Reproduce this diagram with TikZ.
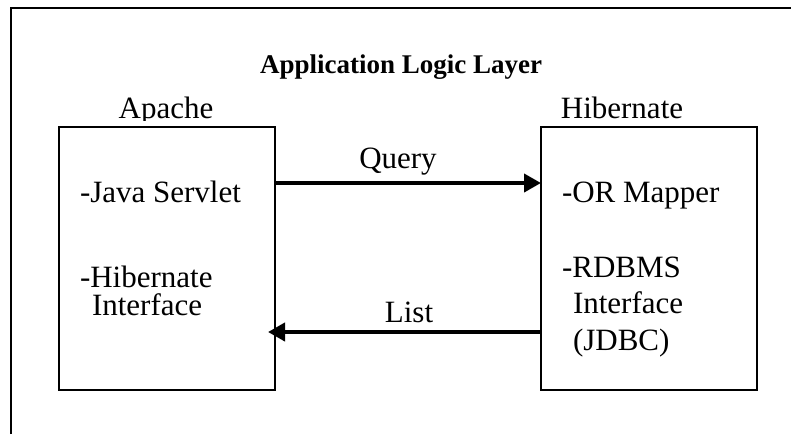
\documentclass[tikz,border=0pt]{standalone}
\usepackage{fontspec}
\setmainfont{Liberation Serif}
\usetikzlibrary{arrows.meta}
\tikzset{
  frameline/.style={line width=2.2pt},
  compbox/.style={draw, line width=2.4pt, minimum width=216pt, minimum height=263pt, inner sep=0pt, outer sep=0pt},
  txt/.style={anchor=base west, inner sep=0pt, outer sep=0pt, font=\fontsize{31}{36}\selectfont},
  ctxt/.style={anchor=base, inner sep=0pt, outer sep=0pt, font=\fontsize{31}{36}\selectfont},
  ttl/.style={anchor=base, inner sep=0pt, outer sep=0pt, font=\fontsize{27}{32}\selectfont\bfseries},
  arr/.style={line width=4pt, -{Triangle[length=17pt,width=18pt]}}
}
\begin{document}
\begin{tikzpicture}[x=1pt,y=-1pt]
\useasboundingbox (0,0) rectangle (791,434);
% frame
\coordinate (fb) at (11,434);
\coordinate (fc) at (11,8);
\coordinate (fr) at (791,8);
\draw[frameline] (fb) -- (fc) -- (fr);
% title
\node[ttl] (title) at (401,73) {Application Logic Layer};
% boxes
\node[compbox] (lbox) at (167,258.5) {};
\node[compbox] (rbox) at (649,258.5) {};
\begin{scope}
\clip (0,0) rectangle (791,120);
\node[ctxt] (apache) at (166,118) {Apache};
\end{scope}
\node[ctxt] (hib) at (622,118) {Hibernate};
% left contents
\node[txt] (l1) at (80,202) {-Java Servlet};
\node[txt] (l2) at (80,287) {-Hibernate};
\node[txt] (l3) at (92,315) {Interface};
% right contents
\node[txt] (r1) at (562,202) {-OR Mapper};
\node[txt] (r2) at (562,277) {-RDBMS};
\node[txt] (r3) at (573,313) {Interface};
\node[txt] (r4) at (573,350) {(JDBC)};
% arrows
\coordinate (qy) at (0,183);
\coordinate (ly) at (0,332);
\draw[arr] (lbox.east |- qy) -- (rbox.west |- qy);
\draw[arr] (rbox.west |- ly) -- ([xshift=-7pt]lbox.east |- ly);
\node[ctxt] (query) at (398,168) {Query};
\node[ctxt] (list) at (409,322) {List};
\end{tikzpicture}
\end{document}
